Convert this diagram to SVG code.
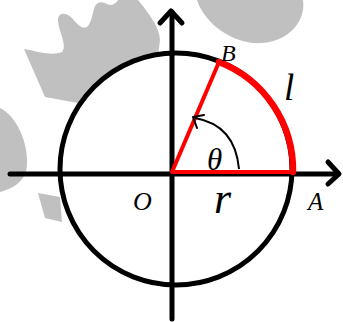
<svg xmlns="http://www.w3.org/2000/svg" width="343" height="322" viewBox="0 0 343 322">
<style>
.wm{fill:#c0c0c0;stroke:none}
.ax{fill:none;stroke:#000;stroke-width:5;stroke-linecap:round;stroke-linejoin:round}
.red{fill:none;stroke:#f00;stroke-linecap:round;stroke-linejoin:round}
.lbl{font-family:"Liberation Serif","Times New Roman",serif;font-style:italic;fill:#000}
</style>
<rect width="343" height="322" fill="#fff"/>
<g id="watermark">
<path class="wm" d="M24,49 C40,52 52,56 62,52 C68,46 58,30 58,20 C58,12 66,12 72,18 C78,26 84,30 88,26 C94,18 92,6 98,3 C104,0 108,6 112,5 C118,2 118,0 118,0 L138,0 C148,12 160,28 160,40 L158,56 C130,58 100,74 78,103 L45,97 Z"/>
<path class="wm" d="M197,0 C205,25 235,45 262,43 C290,41 306,20 303,0 Z"/>
<path class="wm" d="M0,108 C15,115 28,140 27,165 C26,180 15,188 0,192 Z"/>
<path class="wm" d="M38,193 L60,197 L62,222 L45,218 Z"/>
</g>
<g id="axes">
<line class="ax" x1="10" y1="174" x2="338" y2="174"/>
<polyline class="ax" points="328,162 339,174 328,184"/>
<line class="ax" x1="172" y1="12" x2="172" y2="319"/>
<polyline class="ax" points="160,23 171,11 182,23"/>
</g>
<g id="circle">
<circle cx="176" cy="169" r="116" fill="none" stroke="#000" stroke-width="5"/>
</g>
<g id="sector">
<path class="red" stroke-width="6.5" d="M219,62 A116,116 0 0 1 293,172"/>
<polyline class="red" stroke-width="4" points="219,62 172,172 293,172"/>
</g>
<g id="angle">
<path d="M239,169 Q235,125 195,118" fill="none" stroke="#000" stroke-width="2"/>
<polyline points="197,128 193,117 204,115" fill="none" stroke="#000" stroke-width="2" stroke-linecap="round" stroke-linejoin="round"/>
</g>
<g id="labels">
<text class="lbl" x="221" y="61" font-size="24">B</text>
<text class="lbl" x="284" y="100" font-size="37">l</text>
<text class="lbl" x="207" y="170" font-size="31">θ</text>
<text class="lbl" x="133" y="210" font-size="26">O</text>
<text class="lbl" x="214" y="213" font-size="44">r</text>
<text class="lbl" x="308" y="210" font-size="25">A</text>
</g>
</svg>
